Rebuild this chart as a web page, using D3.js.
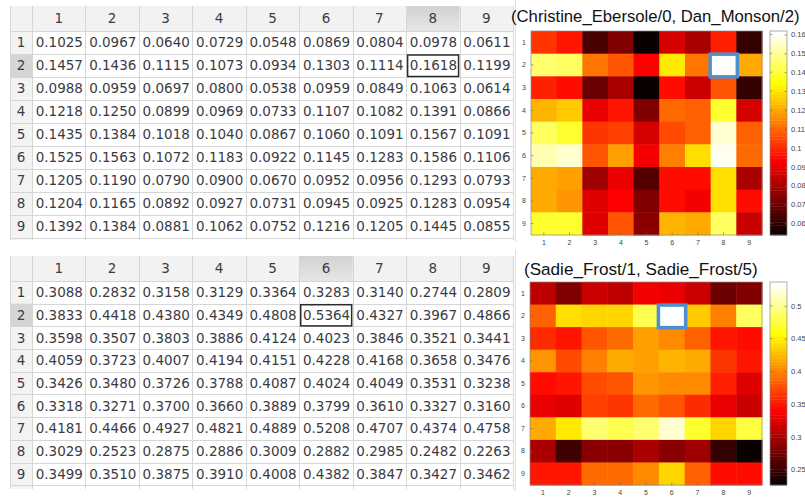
<!DOCTYPE html>
<html>
<head>
<meta charset="utf-8">
<script src="https://cdn.jsdelivr.net/npm/d3@7/dist/d3.min.js"></script>
<style>
  html, body { margin: 0; padding: 0; background: #fff; }
  svg { display: block; }
</style>
</head>
<body>
<svg id="chart" width="805" height="500"></svg>
<script>
// ---------------- DATA ----------------
const categories = ["1", "2", "3", "4", "5", "6", "7", "8", "9"];

const topTitle = "(Christine_Ebersole/0, Dan_Monson/2)";
const topValues = [
  [0.1025, 0.0967, 0.0640, 0.0729, 0.0548, 0.0869, 0.0804, 0.0978, 0.0611],
  [0.1457, 0.1436, 0.1115, 0.1073, 0.0934, 0.1303, 0.1114, 0.1618, 0.1199],
  [0.0988, 0.0959, 0.0697, 0.0800, 0.0538, 0.0959, 0.0849, 0.1063, 0.0614],
  [0.1218, 0.1250, 0.0899, 0.0969, 0.0733, 0.1107, 0.1082, 0.1391, 0.0866],
  [0.1435, 0.1384, 0.1018, 0.1040, 0.0867, 0.1060, 0.1091, 0.1567, 0.1091],
  [0.1525, 0.1563, 0.1072, 0.1183, 0.0922, 0.1145, 0.1283, 0.1586, 0.1106],
  [0.1205, 0.1190, 0.0790, 0.0900, 0.0670, 0.0952, 0.0956, 0.1293, 0.0793],
  [0.1204, 0.1165, 0.0892, 0.0927, 0.0731, 0.0945, 0.0925, 0.1283, 0.0954],
  [0.1392, 0.1384, 0.0881, 0.1062, 0.0752, 0.1216, 0.1205, 0.1445, 0.0855]
];
const topColorTicks = [0.06, 0.07, 0.08, 0.09, 0.1, 0.11, 0.12, 0.13, 0.14, 0.15, 0.16];
const topSelected = { row: "2", col: "8" };

const bottomTitle = "(Sadie_Frost/1, Sadie_Frost/5)";
const bottomValues = [
  [0.3088, 0.2832, 0.3158, 0.3129, 0.3364, 0.3283, 0.3140, 0.2744, 0.2809],
  [0.3833, 0.4418, 0.4380, 0.4349, 0.4808, 0.5364, 0.4327, 0.3967, 0.4866],
  [0.3598, 0.3507, 0.3803, 0.3886, 0.4124, 0.4023, 0.3846, 0.3521, 0.3441],
  [0.4059, 0.3723, 0.4007, 0.4194, 0.4151, 0.4228, 0.4168, 0.3658, 0.3476],
  [0.3426, 0.3480, 0.3726, 0.3788, 0.4087, 0.4024, 0.4049, 0.3531, 0.3238],
  [0.3318, 0.3271, 0.3700, 0.3660, 0.3889, 0.3799, 0.3610, 0.3327, 0.3160],
  [0.4181, 0.4466, 0.4927, 0.4821, 0.4889, 0.5208, 0.4707, 0.4374, 0.4758],
  [0.3029, 0.2523, 0.2875, 0.2886, 0.3009, 0.2882, 0.2985, 0.2482, 0.2263],
  [0.3499, 0.3510, 0.3875, 0.3910, 0.4008, 0.4382, 0.3847, 0.3427, 0.3462]
];
const bottomColorTicks = [0.25, 0.3, 0.35, 0.4, 0.45, 0.5];
const bottomSelected = { row: "2", col: "6" };

// ---------------- HELPERS ----------------
// MATLAB hot(64)
function hot64(i) {
  const n = 64, n1 = 24;
  const r = i < n1 ? (i + 1) / n1 : 1;
  const g = i < n1 ? 0 : (i < 2 * n1 ? (i - n1 + 1) / n1 : 1);
  const b = i < 2 * n1 ? 0 : (i - 2 * n1 + 1) / (n - 2 * n1);
  return d3.rgb(r * 255, g * 255, b * 255).formatHex();
}

const svg = d3.select("#chart");
const TEXT = "#3b3b45";
const GRID = "#d6d6d6";
const FONT_TABLE = "'DejaVu Sans', Verdana, sans-serif";
const FONT_PLOT = "'Liberation Sans', Arial, Helvetica, sans-serif";

function drawPanel(cfg) {
  const values = cfg.values;
  const flat = values.flat();
  const vmin = d3.min(flat), vmax = d3.max(flat);
  const g = svg.append("g");

  // ----- TABLE -----
  const tx = d3.scaleBand().domain(categories).range([cfg.tableLeft, cfg.tableRight]);
  const ty = d3.scaleBand().domain(categories).range([cfg.headerBottom, cfg.headerBottom + cfg.rowH * categories.length]);
  const rowHeadLeft = cfg.rowHeadLeft;

  // header row background
  g.append("rect").attr("x", rowHeadLeft).attr("y", cfg.headerTop)
    .attr("width", cfg.tableRight - rowHeadLeft).attr("height", cfg.headerBottom - cfg.headerTop)
    .attr("fill", "#f2f2f2");
  // row header background
  g.append("rect").attr("x", rowHeadLeft).attr("y", cfg.headerBottom)
    .attr("width", cfg.tableLeft - rowHeadLeft).attr("height", cfg.tableBottom - cfg.headerBottom)
    .attr("fill", "#f3f3f3");
  // selected header column
  g.append("rect").attr("x", tx(cfg.selected.col)).attr("y", cfg.headerTop)
    .attr("width", tx.bandwidth()).attr("height", cfg.headerBottom - cfg.headerTop)
    .attr("fill", "url(#selHead)");
  // selected row header
  g.append("rect").attr("x", rowHeadLeft).attr("y", ty(cfg.selected.row))
    .attr("width", cfg.tableLeft - rowHeadLeft).attr("height", ty.bandwidth())
    .attr("fill", "#d5d5d5");

  // grid lines
  const vx = [rowHeadLeft, cfg.tableLeft].concat(categories.map(c => tx(c) + tx.bandwidth()));
  g.selectAll(".vl").data(vx).join("line")
    .attr("x1", d => Math.round(d) + 0.5).attr("x2", d => Math.round(d) + 0.5)
    .attr("y1", cfg.headerTop).attr("y2", cfg.tableBottom)
    .attr("stroke", GRID).attr("stroke-width", 1);
  const hy = [cfg.headerBottom].concat(categories.map(c => ty(c) + ty.bandwidth()));
  g.selectAll(".hl").data(hy).join("line")
    .attr("x1", rowHeadLeft).attr("x2", cfg.tableRight)
    .attr("y1", d => Math.round(d) + 0.5).attr("y2", d => Math.round(d) + 0.5)
    .attr("stroke", GRID).attr("stroke-width", 1);
  // right separator line
  g.append("line").attr("x1", cfg.sepX + 0.5).attr("x2", cfg.sepX + 0.5)
    .attr("y1", cfg.headerTop - 6).attr("y2", cfg.tableBottom + 2)
    .attr("stroke", "#dedede");

  // header labels
  g.selectAll(".ch").data(categories).join("text")
    .attr("x", d => tx(d) + tx.bandwidth() / 2)
    .attr("y", (cfg.headerTop + cfg.headerBottom) / 2)
    .attr("dy", "0.36em").attr("text-anchor", "middle")
    .attr("font-family", FONT_TABLE).attr("font-size", 13.5).attr("fill", TEXT)
    .text(d => d);
  g.selectAll(".rh").data(categories).join("text")
    .attr("x", (rowHeadLeft + cfg.tableLeft) / 2)
    .attr("y", d => ty(d) + ty.bandwidth() / 2)
    .attr("dy", "0.36em").attr("text-anchor", "middle")
    .attr("font-family", FONT_TABLE).attr("font-size", 13.5).attr("fill", TEXT)
    .text(d => d);

  // cell values
  const cells = [];
  values.forEach((row, i) => row.forEach((v, j) => cells.push({ r: categories[i], c: categories[j], v })));
  g.selectAll(".cv").data(cells).join("text")
    .attr("x", d => tx(d.c) + tx.bandwidth() - 2.5)
    .attr("y", d => ty(d.r) + ty.bandwidth() / 2)
    .attr("dy", "0.36em").attr("text-anchor", "end")
    .attr("font-family", FONT_TABLE).attr("font-size", 13.5).attr("fill", TEXT)
    .text(d => d.v.toFixed(4));

  // selected cell border
  g.append("rect")
    .attr("x", tx(cfg.selected.col) + 1.5).attr("y", ty(cfg.selected.row) + 1)
    .attr("width", tx.bandwidth() - 2.5).attr("height", ty.bandwidth() - 1.5)
    .attr("fill", "none").attr("stroke", "#2b2b2b").attr("stroke-width", 1.5);

  // ----- HEATMAP -----
  const hx = d3.scaleBand().domain(categories).range([cfg.plotLeft, cfg.plotRight]);
  const hy2 = d3.scaleBand().domain(categories).range([cfg.plotTop, cfg.plotBottom]);
  const idx = v => Math.max(0, Math.min(63, Math.floor((v - vmin) / (vmax - vmin) * 64)));

  g.selectAll(".hc").data(cells).join("rect")
    .attr("x", d => hx(d.c)).attr("y", d => hy2(d.r))
    .attr("width", hx.bandwidth() + 0.5).attr("height", hy2.bandwidth() + 0.5)
    .attr("fill", d => hot64(idx(d.v)));

  // axes box
  g.append("rect").attr("x", cfg.plotLeft).attr("y", cfg.plotTop)
    .attr("width", cfg.plotRight - cfg.plotLeft).attr("height", cfg.plotBottom - cfg.plotTop)
    .attr("fill", "none").attr("stroke", "#8a8a8a").attr("stroke-width", 0.7);

  // x axis (bottom)
  const xAxis = d3.axisBottom(hx).tickSizeInner(-2.5).tickSizeOuter(0).tickPadding(5);
  const xa = g.append("g").attr("transform", `translate(0,${cfg.plotBottom})`).call(xAxis);
  // y axis (left)
  const yAxis = d3.axisLeft(hy2).tickSizeInner(-2.5).tickSizeOuter(0).tickPadding(5);
  const ya = g.append("g").attr("transform", `translate(${cfg.plotLeft},0)`).call(yAxis);
  [xa, ya].forEach(a => {
    a.select(".domain").remove();
    a.selectAll("line").attr("stroke", "#666").attr("stroke-width", 0.6);
    a.selectAll("text").attr("font-family", FONT_PLOT).attr("font-size", 7).attr("fill", "#444");
  });

  // selection box
  g.append("rect")
    .attr("x", hx(cfg.selected.col) - 0.5).attr("y", hy2(cfg.selected.row) + 0.5)
    .attr("width", hx.bandwidth() + 1.5).attr("height", hy2.bandwidth())
    .attr("fill", "none").attr("stroke", "#4d8fcf").attr("stroke-width", 3.5);

  // title
  g.append("text").attr("x", cfg.titleX).attr("y", cfg.titleY)
    .attr("font-family", FONT_PLOT).attr("font-size", cfg.titleSize).attr("fill", "#111")
    .text(cfg.title);

  // ----- COLORBAR -----
  const cy = d3.scaleLinear().domain([vmin, vmax]).range([cfg.plotBottom, cfg.plotTop]);
  const steps = d3.range(64);
  const step = (vmax - vmin) / 64;
  g.selectAll(".cb").data(steps).join("rect")
    .attr("x", cfg.cbLeft).attr("width", cfg.cbRight - cfg.cbLeft)
    .attr("y", i => cy(vmin + (i + 1) * step))
    .attr("height", i => cy(vmin + i * step) - cy(vmin + (i + 1) * step) + 0.4)
    .attr("fill", i => hot64(i));
  g.append("rect").attr("x", cfg.cbLeft).attr("y", cfg.plotTop)
    .attr("width", cfg.cbRight - cfg.cbLeft).attr("height", cfg.plotBottom - cfg.plotTop)
    .attr("fill", "none").attr("stroke", "#8a8a8a").attr("stroke-width", 0.7);
  const cbAxis = d3.axisRight(cy).tickValues(cfg.ticks).tickFormat(d3.format("~g"))
    .tickSizeInner(-2.5).tickSizeOuter(0).tickPadding(4);
  const ca = g.append("g").attr("transform", `translate(${cfg.cbRight},0)`).call(cbAxis);
  ca.select(".domain").remove();
  ca.selectAll("line").attr("stroke", "#666").attr("stroke-width", 0.6);
  ca.selectAll("text").attr("font-family", FONT_PLOT).attr("font-size", 7.5).attr("fill", "#444");
  // left side colorbar ticks
  g.selectAll(".cbl").data(cfg.ticks).join("line")
    .attr("x1", cfg.cbLeft).attr("x2", cfg.cbLeft + 2.5)
    .attr("y1", d => cy(d)).attr("y2", d => cy(d))
    .attr("stroke", "#666").attr("stroke-width", 0.6);
}

// gradient for selected header
const defs = svg.append("defs");
const lg = defs.append("linearGradient").attr("id", "selHead").attr("x1", 0).attr("x2", 0).attr("y1", 0).attr("y2", 1);
lg.append("stop").attr("offset", "0%").attr("stop-color", "#d2d2d2");
lg.append("stop").attr("offset", "100%").attr("stop-color", "#e6e6e6");

drawPanel({
  values: topValues, title: topTitle, ticks: topColorTicks, selected: topSelected,
  rowHeadLeft: 10, tableLeft: 32, tableRight: 513,
  headerTop: 6, headerBottom: 31, rowH: 23, tableBottom: 240, sepX: 515,
  plotLeft: 531, plotRight: 762, plotTop: 31, plotBottom: 235,
  cbLeft: 770, cbRight: 787,
  titleX: 511, titleY: 21.5, titleSize: 16.7
});

drawPanel({
  values: bottomValues, title: bottomTitle, ticks: bottomColorTicks, selected: bottomSelected,
  rowHeadLeft: 10, tableLeft: 32, tableRight: 513,
  headerTop: 256, headerBottom: 281, rowH: 22.7, tableBottom: 489, sepX: 515,
  plotLeft: 530, plotRight: 762, plotTop: 282, plotBottom: 485,
  cbLeft: 770, cbRight: 787,
  titleX: 524, titleY: 274.5, titleSize: 17.1
});
</script>
</body>
</html>
